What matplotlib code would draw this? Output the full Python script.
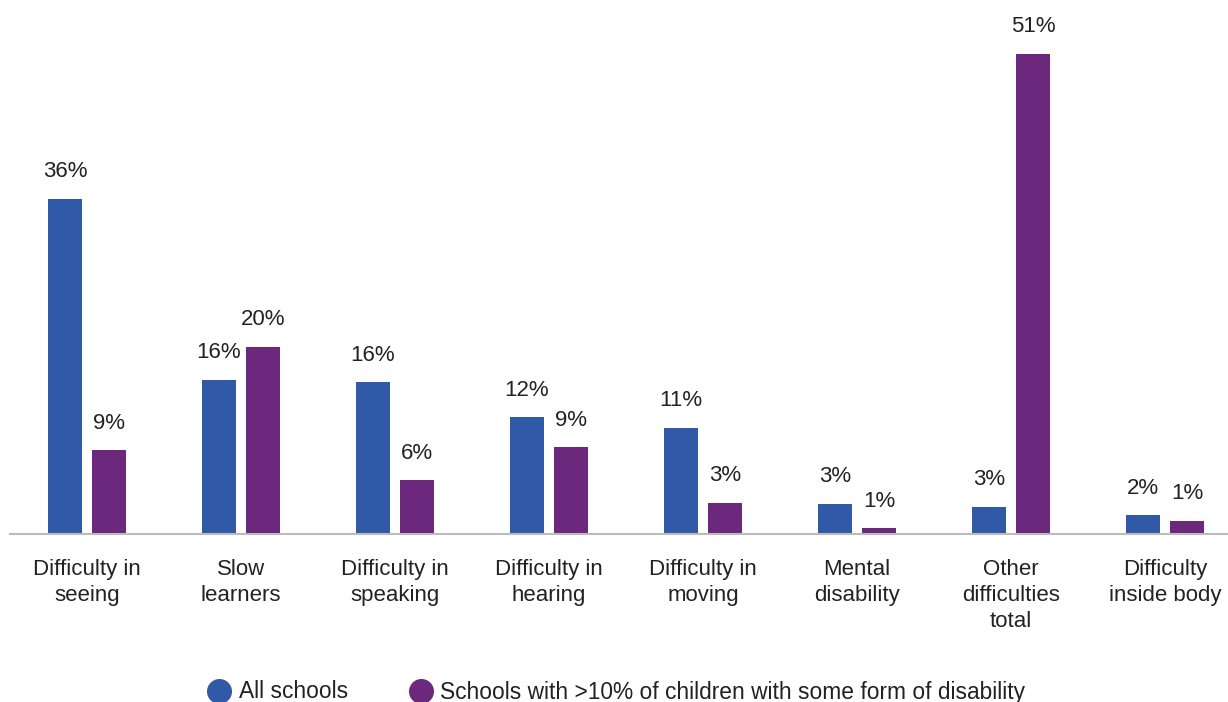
import matplotlib
matplotlib.use("Agg")
import matplotlib.pyplot as plt
from matplotlib.lines import Line2D
import numpy as np

# Data
categories = [
    "Difficulty in\nseeing",
    "Slow\nlearners",
    "Difficulty in\nspeaking",
    "Difficulty in\nhearing",
    "Difficulty in\nmoving",
    "Mental\ndisability",
    "Other\ndifficulties\ntotal",
    "Difficulty\ninside body",
]
all_schools = [35.6, 16.4, 16.1, 12.4, 11.3, 3.2, 2.9, 2.0]
disability_schools = [8.9, 19.9, 5.7, 9.2, 3.3, 0.6, 51.0, 1.4]
series_names = ["All schools", "Schools with >10% of children with some form of disability"]

blue = "#3059A8"
purple = "#6B287D"

plt.rcParams["font.family"] = ["Liberation Sans", "DejaVu Sans"]

fig = plt.figure(figsize=(12.28, 7.02), dpi=100)
ax = fig.add_axes([10 / 1228, 168 / 702, 1218 / 1228, 527 / 702])

x = np.arange(len(categories))
w = 0.22
off = 0.143
b1 = ax.bar(x - off, all_schools, w, color=blue)
b2 = ax.bar(x + off, disability_schools, w, color=purple)

# value labels
for bars, vals in [(b1, all_schools), (b2, disability_schools)]:
    for b, v in zip(bars, vals):
        ax.annotate("%d%%" % round(v), (b.get_x() + b.get_width() / 2, v),
                    xytext=(0, 12), textcoords="offset points",
                    ha="center", va="bottom", fontsize=16, color="#222222")

ax.set_xlim(-0.5, 7.41)
ax.set_ylim(0, 56)
ax.set_xticks(x)
ax.set_xticklabels(categories, fontsize=16, color="#222222", linespacing=1.3, va="top")
ax.tick_params(axis="x", length=0, pad=18)
ax.set_yticks([])
for s in ["top", "right", "left"]:
    ax.spines[s].set_visible(False)
ax.spines["bottom"].set_color("#BBBBBB")
ax.spines["bottom"].set_linewidth(1.5)

handles = [
    Line2D([], [], marker="o", linestyle="none", markersize=17, color=blue),
    Line2D([], [], marker="o", linestyle="none", markersize=17, color=purple),
]
fig.legend(handles, series_names, loc="center", bbox_to_anchor=(0.4975, 10 / 702),
           ncol=2, frameon=False, fontsize=16.4, handletextpad=-0.15, columnspacing=2.2,
           labelcolor="#222222")

fig.savefig("out.png", dpi=100)
